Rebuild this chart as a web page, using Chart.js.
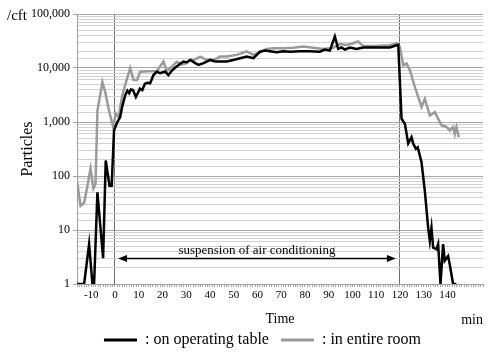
<!DOCTYPE html>
<html>
<head>
<meta charset="utf-8">
<script src="https://cdn.jsdelivr.net/npm/chart.js@4.4.1/dist/chart.umd.min.js"></script>
<style>
  html, body { margin: 0; padding: 0; background: #fff; }
  #wrap { width: 500px; height: 356px; }
</style>
</head>
<body>
<div id="wrap"><canvas id="chart"></canvas></div>
<script>
/* particle counts, before / during / after suspension of air conditioning */

// on operating table (black)
const tableTimes = [-16, -13, -10.9, -9.5, -8.8, -7.4, -5, -3.9, -2.3, -1.4, -0.4, 1, 2.2, 3, 4.3, 5.2, 6, 6.7, 7.6, 8.8,
  10.5, 11.5, 12.6, 13.6, 14.8, 16.2, 17.7, 19, 21.1, 22.5, 24, 25.4, 26.8, 28.8, 30.2, 31.7, 33.8, 35.2, 37.3, 40.1,
  42.2, 44.3, 47, 49.8, 52.7, 55.5, 58.3, 61, 63.2, 65.3, 68.1, 70.9, 73.7, 77.9, 82.1, 86.3, 88.4, 90.5, 92.6, 94,
  95.4, 96.8, 99, 101.7, 104.5, 107.3, 111.5, 115.7, 119.3, 120.7, 122.1, 123.5, 124.9, 125.6, 126.7, 127.5, 129.1, 130.5, 131.9, 132.6,
  133.3, 134, 135.4, 136.1, 137.1, 138.2, 138.9, 140.3, 141, 142.4, 143.8];
const tableCounts = [1, 1, 5.5, 1, 1, 50, 3, 194, 66, 66, 700, 1000, 1240, 1900, 3150, 3800, 3400, 4000, 3900, 2900,
  4150, 3900, 5100, 5300, 5200, 7400, 8600, 8000, 8600, 7400, 9000, 10200, 11400, 13200, 12800, 14100, 12300, 11400, 12300, 14100,
  13200, 13200, 13200, 14100, 15200, 16300, 15200, 20000, 21000, 20500, 19500, 20500, 20000, 20500, 20500, 20000, 22000, 21000, 38500, 22600,
  24000, 22000, 24000, 22600, 24000, 24000, 24000, 24000, 27000, 1150, 930, 400, 525, 400, 318, 340, 180, 53, 11, 6.3,
  11, 4.7, 4.4, 5.5, 1, 5.5, 2.7, 3.3, 2.3, 1, 1];

// in entire room (gray)
const roomTimes = [-16, -14.5, -13, -11.6, -10.3, -9.1, -8.2, -7.4, -5.3, -4, -2.5, -0.7, 0.3, 1.5, 2.9, 4.6, 6.4, 7.8, 9.3, 10.6,
  14, 17.7, 20.4, 21.8, 24, 26, 28.1, 30, 31.7, 33, 35.9, 38.7, 41.5, 44.3, 47, 51.3, 55.5, 58.3, 61, 63.9,
  66.7, 70.9, 75.1, 79.3, 83.5, 87.7, 91.9, 94.7, 97.5, 100.3, 102.4, 104.5, 110, 115.7, 118.5, 120, 121.4, 122.8, 124.2, 126.3,
  129.1, 130.5, 132.6, 134.7, 137.5, 139.6, 141, 142.4, 143.1, 143.8, 144.8];
const roomCounts = [80, 28, 32, 66, 137, 59, 72, 1600, 5500, 3400, 1600, 800, 1450, 1230, 2900, 5400, 10000, 6000, 6000, 8500,
  8700, 8800, 13200, 8800, 10700, 13000, 11700, 12200, 14100, 14000, 16300, 14000, 14000, 16300, 16300, 17500, 20300, 17500, 19500, 22600,
  23200, 23200, 23800, 25000, 23800, 22600, 23800, 27700, 26700, 28700, 31000, 25500, 25500, 26500, 28600, 24700, 11200, 12100, 9100, 4450,
  1900, 2700, 1320, 1520, 870, 810, 700, 810, 600, 810, 525];

const xTickLabels = [-10, 0, 10, 20, 30, 40, 50, 60, 70, 80, 90, 100, 110, 120, 130, 140];
const yTickLabels = { 1: '1', 10: '10', 100: '100', 1000: '1,000', 10000: '10,000', 100000: '100,000' };
const markTimes = [0, 120];          // start / end of suspension
const arrowLevel = 3;
const arrowText = 'suspension of air conditioning';
const seriesNames = [': on operating table', ': in entire room'];

const SERIF = "'Liberation Serif', 'Times New Roman', serif";
const BLACK = '#000000';
const GRAY = '#9a9a9a';

function isDecade(v) {
  const l = Math.log10(v);
  return Math.abs(l - Math.round(l)) < 1e-9;
}

// 矢印 + 単位ラベル
const extras = {
  id: 'extras',
  afterLayout(chart) {
    // 凡例を少し右下へ
    chart.legend.left += 21;
    chart.legend.right += 21;
    chart.legend.top += 2;
    chart.legend.bottom += 2;
  },
  afterDatasetsDraw(chart) {
    const { ctx, scales: { x, y } } = chart;
    const x0 = x.getPixelForValue(markTimes[0]) + 3;
    const x1 = x.getPixelForValue(markTimes[1]) - 4;
    const ya = Math.round(y.getPixelForValue(arrowLevel)) + 0.5;
    ctx.save();
    ctx.strokeStyle = '#000';
    ctx.fillStyle = '#000';
    ctx.lineWidth = 1.5;
    ctx.beginPath();
    ctx.moveTo(x0 + 6, ya);
    ctx.lineTo(x1 - 6, ya);
    ctx.stroke();
    ctx.beginPath();
    ctx.moveTo(x0, ya); ctx.lineTo(x0 + 9, ya - 3.5); ctx.lineTo(x0 + 9, ya + 3.5); ctx.closePath();
    ctx.fill();
    ctx.beginPath();
    ctx.moveTo(x1, ya); ctx.lineTo(x1 - 9, ya - 3.5); ctx.lineTo(x1 - 9, ya + 3.5); ctx.closePath();
    ctx.fill();

    ctx.font = `13px ${SERIF}`;
    ctx.textAlign = 'center';
    ctx.textBaseline = 'alphabetic';
    ctx.fillText(arrowText, (x0 + x1) / 2, ya - 5);
    ctx.restore();
  },
  afterDraw(chart) {
    const { ctx, chartArea } = chart;
    ctx.save();
    ctx.fillStyle = '#000';
    ctx.textBaseline = 'middle';
    ctx.font = `15px ${SERIF}`;
    ctx.textAlign = 'left';
    ctx.fillText('/cft', 7, 16);
    ctx.font = `14px ${SERIF}`;
    ctx.textAlign = 'right';
    ctx.fillText('min', chartArea.right, 320);
    ctx.restore();
  }
};

new Chart(document.getElementById('chart'), {
  type: 'line',
  data: {
    datasets: [
      {
        label: seriesNames[0],
        data: tableTimes.map((t, i) => ({ x: t, y: tableCounts[i] })),
        borderColor: BLACK,
        backgroundColor: BLACK,
        borderWidth: 2.5,
        pointRadius: 0,
        tension: 0
      },
      {
        label: seriesNames[1],
        data: roomTimes.map((t, i) => ({ x: t, y: roomCounts[i] })),
        borderColor: GRAY,
        backgroundColor: GRAY,
        borderWidth: 2.5,
        pointRadius: 0,
        tension: 0
      }
    ]
  },
  options: {
    responsive: true,
    maintainAspectRatio: false,
    animation: false,
    devicePixelRatio: 1,
    layout: { padding: { left: 0, right: 17, top: 14, bottom: 0 } },
    scales: {
      x: {
        type: 'linear',
        min: -16,
        max: 155,
        afterFit: (s) => { s.height = 34; },
        border: { color: '#a0a0a0' },
        grid: {
          drawOnChartArea: true,
          color: (c) => (c.tick && markTimes.includes(c.tick.value)) ? '#6e6e6e' : 'rgba(0,0,0,0)',
          tickColor: '#a8a8a8',
          tickLength: 3
        },
        ticks: {
          stepSize: 1,
          autoSkip: false,
          maxRotation: 0,
          padding: 2,
          color: '#000',
          font: { family: SERIF, size: 11 },
          callback: (v) => xTickLabels.includes(v) ? String(v) : ''
        },
        title: {
          display: true,
          text: 'Time',
          color: '#000',
          font: { family: SERIF, size: 14 },
          padding: { top: 0, bottom: -9.5 }
        }
      },
      y: {
        type: 'logarithmic',
        min: 1,
        max: 100000,
        afterFit: (s) => { s.width = 77; },
        border: { color: '#a0a0a0' },
        grid: {
          color: (c) => (c.tick && isDecade(c.tick.value)) ? '#a6a6a6' : '#d2d2d2',
          tickColor: (c) => (c.tick && isDecade(c.tick.value)) ? '#a6a6a6' : 'rgba(0,0,0,0)',
          tickLength: 4
        },
        ticks: {
          autoSkip: false,
          padding: 3,
          color: '#000',
          font: { family: SERIF, size: 12 },
          callback: (v) => yTickLabels[v] ?? ''
        },
        title: {
          display: true,
          text: 'Particles',
          color: '#000',
          font: { family: SERIF, size: 16 },
          padding: { top: 18, bottom: 0 }
        }
      }
    },
    plugins: {
      legend: {
        position: 'bottom',
        labels: {
          boxWidth: 33,
          boxHeight: 3,
          padding: 12,
          color: '#000',
          font: { family: SERIF, size: 16 },
          generateLabels: (chart) => chart.data.datasets.map((d, i) => ({
            text: d.label,
            fillStyle: d.borderColor,
            strokeStyle: d.borderColor,
            lineWidth: 0,
            fontColor: '#000',
            hidden: false,
            datasetIndex: i
          }))
        }
      },
      tooltip: { enabled: false }
    }
  },
  plugins: [extras]
});
</script>
</body>
</html>
